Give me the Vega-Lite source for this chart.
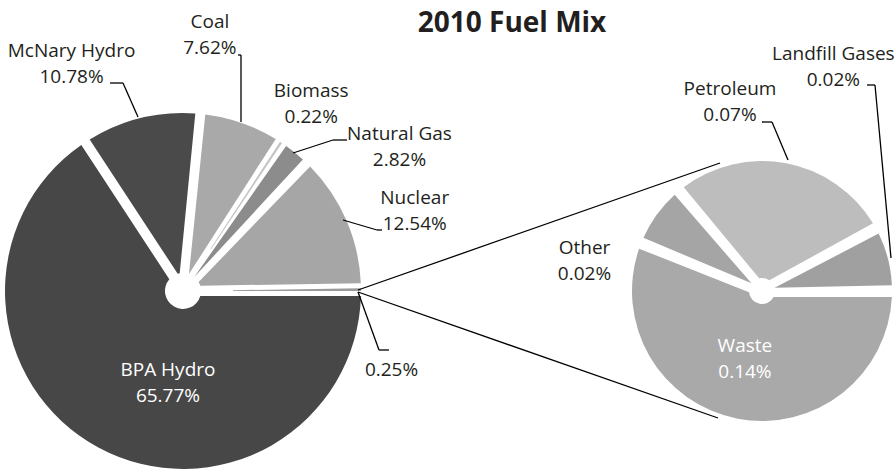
{
  "$schema": "https://vega.github.io/schema/vega-lite/v6.json",
  "width": 894,
  "height": 470,
  "autosize": {"type": "none"},
  "padding": 0,
  "background": "white",
  "title": {"text": "2010 Fuel Mix", "font": "Open Sans", "fontSize": 28, "fontWeight": "bold", "color": "#231f20", "anchor": "middle", "dx": 65, "offset": -60, "baseline": "alphabetic"},
  "config": {"view": {"stroke": null}, "text": {"font": "Open Sans", "fontSize": 19, "lineHeight": 26, "lineBreak": "\n", "color": "#231f20", "align": "center", "baseline": "middle", "dy": -13}, "rule": {"color": "black", "strokeWidth": 1.3}},
  "datasets": {
    "mainAnchor": [{"pie": "Main"}],
    "detailAnchor": [{"pie": "Detail"}],
    "link": [{"from": "Main", "to": "Detail"}]
  },
  "data": {"values": [
    {"pie": "Main", "name": "BPA Hydro", "value": 65.77, "order": 1, "label": "BPA Hydro\n65.77%"},
    {"pie": "Main", "name": "McNary Hydro", "value": 10.78, "order": 2, "label": "McNary Hydro\n10.78%"},
    {"pie": "Main", "name": "Coal", "value": 7.62, "order": 3, "label": "Coal\n7.62%"},
    {"pie": "Main", "name": "Biomass", "value": 0.22, "order": 4, "label": "Biomass\n0.22%"},
    {"pie": "Main", "name": "Natural Gas", "value": 2.82, "order": 5, "label": "Natural Gas\n2.82%"},
    {"pie": "Main", "name": "Nuclear", "value": 12.54, "order": 6, "label": "Nuclear\n12.54%"},
    {"pie": "Main", "name": "Other sources", "value": 0.25, "order": 7, "label": "0.25%"},
    {"pie": "Detail", "name": "Waste", "value": 0.14, "order": 1, "label": "Waste\n0.14%"},
    {"pie": "Detail", "name": "Other", "value": 0.02, "order": 2, "label": "Other\n0.02%"},
    {"pie": "Detail", "name": "Petroleum", "value": 0.07, "order": 3, "label": "Petroleum\n0.07%"},
    {"pie": "Detail", "name": "Landfill Gases", "value": 0.02, "order": 4, "label": "Landfill Gases\n0.02%"}
  ]},
  "encoding": {
    "x": {"field": "pie", "type": "nominal", "axis": null, "scale": {"type": "point", "domain": ["Main", "Detail"], "range": [183, 762], "padding": 0}},
    "y": {"field": "pie", "type": "nominal", "axis": null, "scale": {"type": "point", "domain": ["Main", "Detail"], "range": [291, 291], "padding": 0}},
    "theta": {"field": "value", "type": "quantitative", "stack": true, "scale": {"range": [1.5708, 7.854]}},
    "order": {"field": "order", "type": "quantitative"}
  },
  "layer": [
    {
      "transform": [{"filter": "datum.pie === 'Main'"}],
      "mark": {"type": "arc", "outerRadius": 178, "innerRadius": 18, "padAngle": 0.056},
      "encoding": {
        "color": {"field": "name", "type": "nominal", "legend": null, "scale": {
          "domain": ["BPA Hydro", "McNary Hydro", "Coal", "Biomass", "Natural Gas", "Nuclear", "Other sources", "Waste", "Other", "Petroleum", "Landfill Gases"],
          "range": ["#474747", "#4a4a4a", "#a9a9a9", "#c4c4c4", "#8c8c8c", "#a6a6a6", "#9a9a9a", "#a9a9a9", "#a5a5a5", "#bdbdbd", "#a0a0a0"]}}
      }
    },
    {
      "transform": [{"filter": "datum.pie === 'Main'"}],
      "mark": {"type": "arc", "outerRadius": 178, "innerRadius": 50},
      "encoding": {
        "color": {"field": "name", "type": "nominal", "legend": null},
        "opacity": {"condition": {"test": "datum.value < 1", "value": 1}, "value": 0}
      }
    },
    {
      "transform": [{"filter": "datum.pie === 'Detail'"}],
      "mark": {"type": "arc", "outerRadius": 130, "innerRadius": 13, "padAngle": 0.09},
      "encoding": {"color": {"field": "name", "type": "nominal", "legend": null}}
    },
    {
      "transform": [{"filter": "datum.pie === 'Main'"}],
      "mark": {"type": "text", "radius": 253, "thetaOffset": -0.215},
      "encoding": {"text": {"condition": {"test": "datum.name === 'McNary Hydro'", "field": "label"}, "value": ""}}
    },
    {
      "transform": [{"filter": "datum.pie === 'Main'"}],
      "mark": {"type": "text", "radius": 257, "thetaOffset": -0.232},
      "encoding": {"text": {"condition": {"test": "datum.name === 'Coal'", "field": "label"}, "value": ""}}
    },
    {
      "transform": [{"filter": "datum.pie === 'Main'"}],
      "mark": {"type": "text", "radius": 227, "thetaOffset": 0.017},
      "encoding": {"text": {"condition": {"test": "datum.name === 'Biomass'", "field": "label"}, "value": ""}}
    },
    {
      "transform": [{"filter": "datum.pie === 'Main'"}],
      "mark": {"type": "text", "radius": 260, "thetaOffset": 0.305},
      "encoding": {"text": {"condition": {"test": "datum.name === 'Natural Gas'", "field": "label"}, "value": ""}}
    },
    {
      "transform": [{"filter": "datum.pie === 'Main'"}],
      "mark": {"type": "text", "radius": 245, "thetaOffset": 0.079},
      "encoding": {"text": {"condition": {"test": "datum.name === 'Nuclear'", "field": "label"}, "value": ""}}
    },
    {
      "transform": [{"filter": "datum.pie === 'Main'"}],
      "mark": {"type": "text", "radius": 223, "thetaOffset": 0.37, "dy": 0},
      "encoding": {"text": {"condition": {"test": "datum.name === 'Other sources'", "field": "label"}, "value": ""}}
    },
    {
      "transform": [{"filter": "datum.pie === 'Main'"}],
      "mark": {"type": "text", "radius": 93, "thetaOffset": -0.333, "color": "white"},
      "encoding": {"text": {"condition": {"test": "datum.name === 'BPA Hydro'", "field": "label"}, "value": ""}}
    },
    {
      "transform": [{"filter": "datum.pie === 'Detail'"}],
      "mark": {"type": "text", "radius": 70, "thetaOffset": 0.058, "color": "white"},
      "encoding": {"text": {"condition": {"test": "datum.name === 'Waste'", "field": "label"}, "value": ""}}
    },
    {
      "transform": [{"filter": "datum.pie === 'Detail'"}],
      "mark": {"type": "text", "radius": 180, "thetaOffset": -0.461},
      "encoding": {"text": {"condition": {"test": "datum.name === 'Other'", "field": "label"}, "value": ""}}
    },
    {
      "transform": [{"filter": "datum.pie === 'Detail'"}],
      "mark": {"type": "text", "radius": 192, "thetaOffset": -0.356},
      "encoding": {"text": {"condition": {"test": "datum.name === 'Petroleum'", "field": "label"}, "value": ""}}
    },
    {
      "transform": [{"filter": "datum.pie === 'Detail'"}],
      "mark": {"type": "text", "radius": 235, "thetaOffset": -1.011},
      "encoding": {"text": {"condition": {"test": "datum.name === 'Landfill Gases'", "field": "label"}, "value": ""}}
    },
    {
      "data": {"name": "link"},
      "mark": {"type": "rule", "xOffset": 175, "x2Offset": -42, "yOffset": -1, "y2Offset": -128},
      "encoding": {"x": {"field": "from", "type": "nominal"}, "x2": {"field": "to"}, "y": {"field": "from", "type": "nominal"}, "y2": {"field": "to"}, "theta": null, "order": null}
    },
    {
      "data": {"name": "link"},
      "mark": {"type": "rule", "xOffset": 175, "x2Offset": -44, "yOffset": 1, "y2Offset": 127},
      "encoding": {"x": {"field": "from", "type": "nominal"}, "x2": {"field": "to"}, "y": {"field": "from", "type": "nominal"}, "y2": {"field": "to"}, "theta": null, "order": null}
    },
    {
      "data": {"name": "mainAnchor"},
      "mark": {"type": "rule", "xOffset": -73, "yOffset": -208, "x2Offset": -60, "y2Offset": -208},
      "encoding": {"x": {"field": "pie", "type": "nominal"}, "x2": {"field": "pie"}, "y": {"field": "pie", "type": "nominal"}, "y2": {"field": "pie"}, "theta": null, "order": null}
    },
    {
      "data": {"name": "mainAnchor"},
      "mark": {"type": "rule", "xOffset": -60, "yOffset": -208, "x2Offset": -45, "y2Offset": -174},
      "encoding": {"x": {"field": "pie", "type": "nominal"}, "x2": {"field": "pie"}, "y": {"field": "pie", "type": "nominal"}, "y2": {"field": "pie"}, "theta": null, "order": null}
    },
    {
      "data": {"name": "mainAnchor"},
      "mark": {"type": "rule", "xOffset": 55, "yOffset": -236, "x2Offset": 58, "y2Offset": -236},
      "encoding": {"x": {"field": "pie", "type": "nominal"}, "x2": {"field": "pie"}, "y": {"field": "pie", "type": "nominal"}, "y2": {"field": "pie"}, "theta": null, "order": null}
    },
    {
      "data": {"name": "mainAnchor"},
      "mark": {"type": "rule", "xOffset": 58, "yOffset": -236, "x2Offset": 58, "y2Offset": -169},
      "encoding": {"x": {"field": "pie", "type": "nominal"}, "x2": {"field": "pie"}, "y": {"field": "pie", "type": "nominal"}, "y2": {"field": "pie"}, "theta": null, "order": null}
    },
    {
      "data": {"name": "mainAnchor"},
      "mark": {"type": "rule", "xOffset": 164, "yOffset": -151, "x2Offset": 150, "y2Offset": -151},
      "encoding": {"x": {"field": "pie", "type": "nominal"}, "x2": {"field": "pie"}, "y": {"field": "pie", "type": "nominal"}, "y2": {"field": "pie"}, "theta": null, "order": null}
    },
    {
      "data": {"name": "mainAnchor"},
      "mark": {"type": "rule", "xOffset": 150, "yOffset": -151, "x2Offset": 110, "y2Offset": -138},
      "encoding": {"x": {"field": "pie", "type": "nominal"}, "x2": {"field": "pie"}, "y": {"field": "pie", "type": "nominal"}, "y2": {"field": "pie"}, "theta": null, "order": null}
    },
    {
      "data": {"name": "mainAnchor"},
      "mark": {"type": "rule", "xOffset": 160, "yOffset": -71, "x2Offset": 194, "y2Offset": -61},
      "encoding": {"x": {"field": "pie", "type": "nominal"}, "x2": {"field": "pie"}, "y": {"field": "pie", "type": "nominal"}, "y2": {"field": "pie"}, "theta": null, "order": null}
    },
    {
      "data": {"name": "mainAnchor"},
      "mark": {"type": "rule", "xOffset": 194, "yOffset": -61, "x2Offset": 199, "y2Offset": -61},
      "encoding": {"x": {"field": "pie", "type": "nominal"}, "x2": {"field": "pie"}, "y": {"field": "pie", "type": "nominal"}, "y2": {"field": "pie"}, "theta": null, "order": null}
    },
    {
      "data": {"name": "mainAnchor"},
      "mark": {"type": "rule", "xOffset": 175, "yOffset": 1, "x2Offset": 196, "y2Offset": 59},
      "encoding": {"x": {"field": "pie", "type": "nominal"}, "x2": {"field": "pie"}, "y": {"field": "pie", "type": "nominal"}, "y2": {"field": "pie"}, "theta": null, "order": null}
    },
    {
      "data": {"name": "mainAnchor"},
      "mark": {"type": "rule", "xOffset": 196, "yOffset": 59, "x2Offset": 206, "y2Offset": 59},
      "encoding": {"x": {"field": "pie", "type": "nominal"}, "x2": {"field": "pie"}, "y": {"field": "pie", "type": "nominal"}, "y2": {"field": "pie"}, "theta": null, "order": null}
    },
    {
      "data": {"name": "detailAnchor"},
      "mark": {"type": "rule", "xOffset": 0, "yOffset": -169, "x2Offset": 10, "y2Offset": -169},
      "encoding": {"x": {"field": "pie", "type": "nominal"}, "x2": {"field": "pie"}, "y": {"field": "pie", "type": "nominal"}, "y2": {"field": "pie"}, "theta": null, "order": null}
    },
    {
      "data": {"name": "detailAnchor"},
      "mark": {"type": "rule", "xOffset": 10, "yOffset": -169, "x2Offset": 26, "y2Offset": -131},
      "encoding": {"x": {"field": "pie", "type": "nominal"}, "x2": {"field": "pie"}, "y": {"field": "pie", "type": "nominal"}, "y2": {"field": "pie"}, "theta": null, "order": null}
    },
    {
      "data": {"name": "detailAnchor"},
      "mark": {"type": "rule", "xOffset": 105, "yOffset": -206, "x2Offset": 113, "y2Offset": -206},
      "encoding": {"x": {"field": "pie", "type": "nominal"}, "x2": {"field": "pie"}, "y": {"field": "pie", "type": "nominal"}, "y2": {"field": "pie"}, "theta": null, "order": null}
    },
    {
      "data": {"name": "detailAnchor"},
      "mark": {"type": "rule", "xOffset": 113, "yOffset": -206, "x2Offset": 129, "y2Offset": -33},
      "encoding": {"x": {"field": "pie", "type": "nominal"}, "x2": {"field": "pie"}, "y": {"field": "pie", "type": "nominal"}, "y2": {"field": "pie"}, "theta": null, "order": null}
    }
  ],
  "resolve": {"scale": {"theta": "independent"}}
}
